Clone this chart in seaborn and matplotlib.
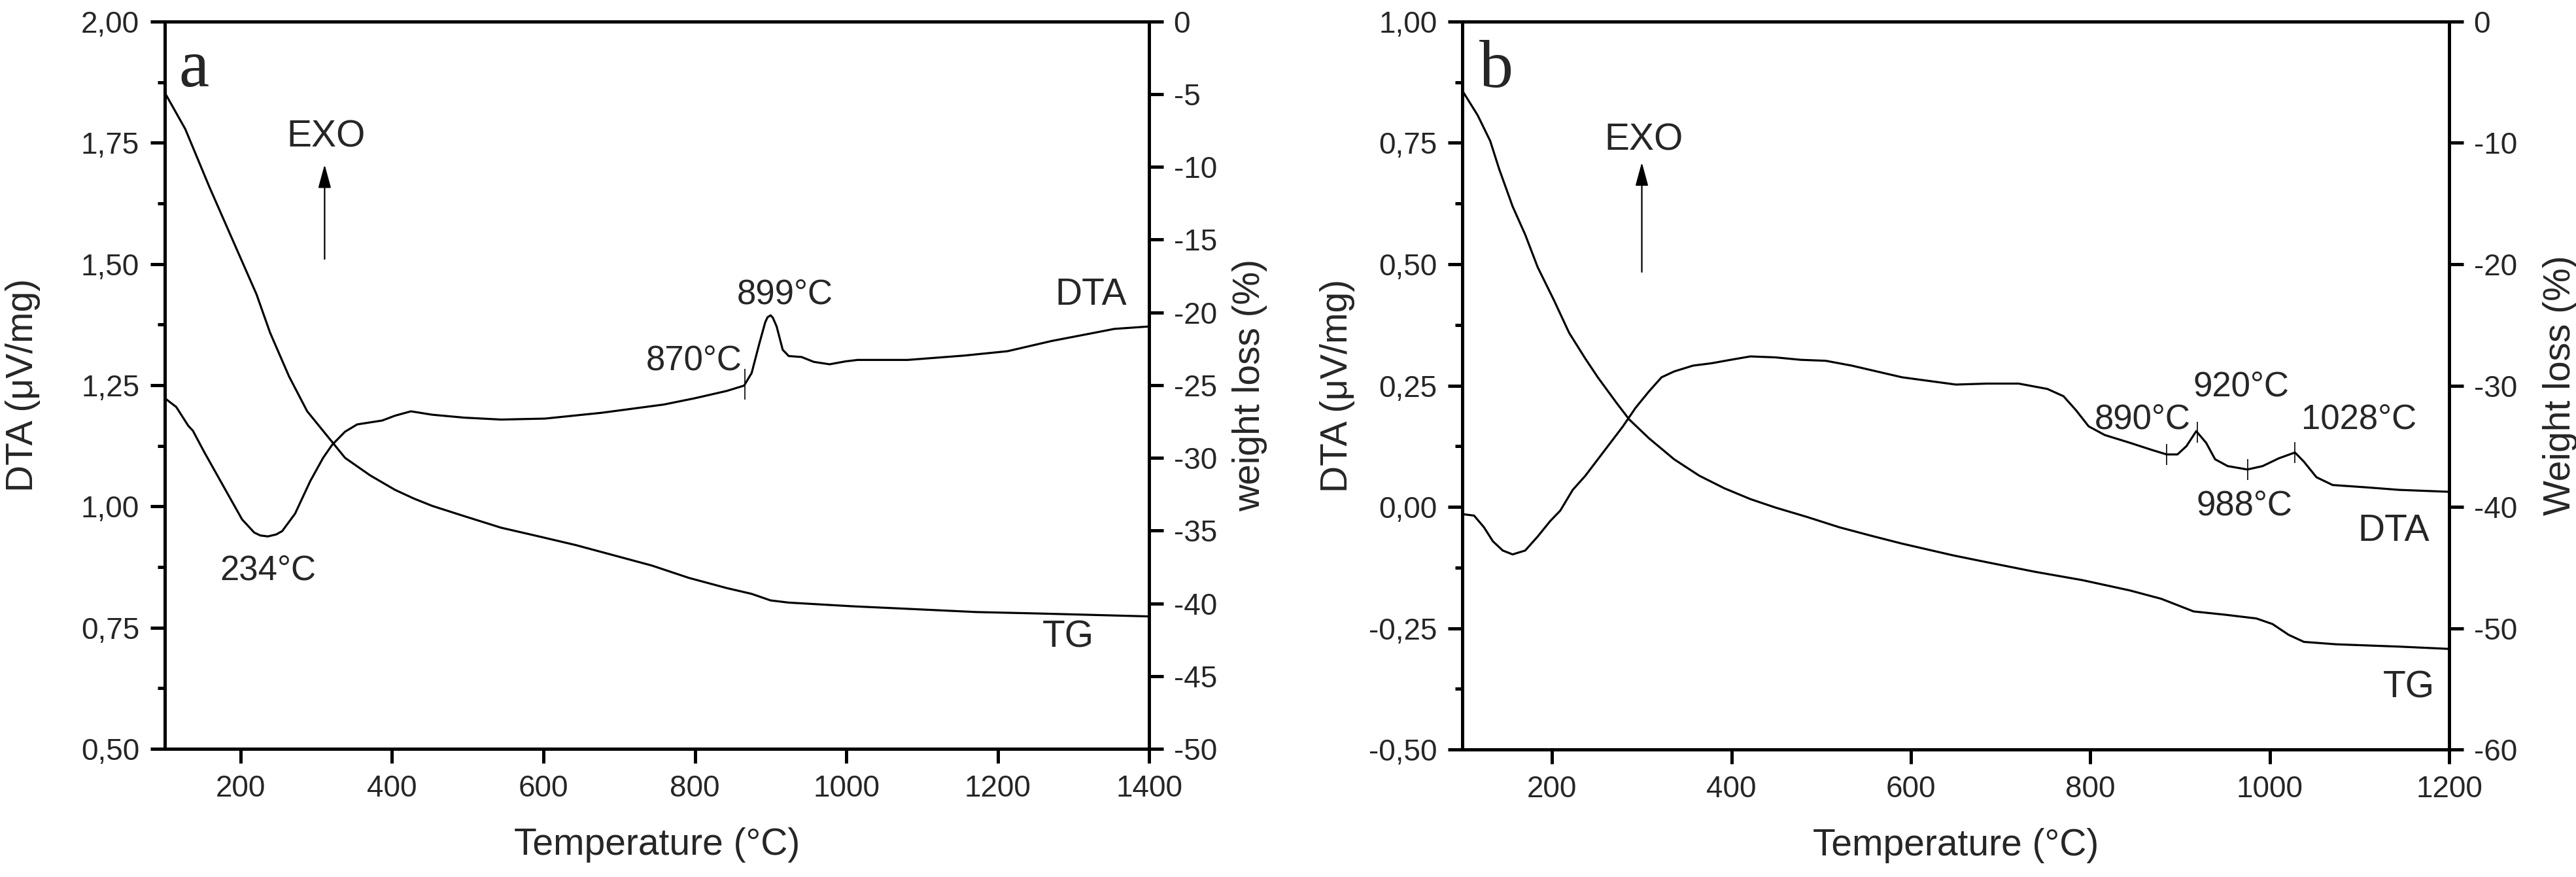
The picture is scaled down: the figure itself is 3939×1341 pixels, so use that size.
import matplotlib
matplotlib.use("Agg")
import numpy as np
import matplotlib.pyplot as plt
from matplotlib.ticker import MultipleLocator, FuncFormatter, NullLocator
import seaborn as sns

# ---- panel a : DTA (left axis) and TG (right axis) ----
a_dta_temp = [100, 115, 131, 137, 152, 175, 202, 218, 226, 236, 247, 255, 272, 292, 309, 321,
              338, 354, 387, 404, 425, 453, 495, 544, 602, 677, 759, 800, 842, 865, 875, 885,
              893, 896, 900, 903, 908, 916, 924, 941, 957, 978, 999, 1015, 1081, 1156, 1213,
              1271, 1321, 1354, 1400]
a_dta = [1.223, 1.205, 1.166, 1.156, 1.112, 1.048, 0.973, 0.946, 0.940, 0.938, 0.942, 0.949,
         0.985, 1.052, 1.100, 1.127, 1.154, 1.169, 1.177, 1.187, 1.196, 1.189, 1.183, 1.179,
         1.181, 1.193, 1.210, 1.223, 1.238, 1.249, 1.275, 1.335, 1.380, 1.390, 1.394, 1.389,
         1.371, 1.323, 1.310, 1.308, 1.298, 1.293, 1.299, 1.302, 1.302, 1.311, 1.320, 1.341,
         1.356, 1.366, 1.371]
a_tg_temp = [100, 127, 159, 202, 221, 239, 264, 288, 313, 338, 371, 404, 429, 453, 495, 544,
             594, 643, 693, 743, 792, 842, 875, 900, 924, 1007, 1090, 1172, 1255, 1400]
a_tg = [-4.9, -7.4, -11.4, -16.5, -18.75, -21.4, -24.4, -26.8, -28.4, -30.0, -31.2, -32.2,
        -32.8, -33.3, -34.0, -34.8, -35.4, -36.0, -36.7, -37.4, -38.25, -38.95, -39.35, -39.8,
        -39.95, -40.2, -40.4, -40.6, -40.7, -40.9]
a_marks = [866]

# ---- panel b ----
b_dta_temp = [100, 113, 124, 134, 145, 156, 170, 184, 198, 209, 223, 237, 251, 265, 279, 293,
              308, 322, 336, 357, 378, 399, 421, 449, 477, 505, 534, 562, 590, 618, 650, 685,
              720, 752, 770, 784, 798, 816, 844, 869, 885, 897, 907, 918, 929, 939, 953, 975,
              992, 1010, 1028, 1038, 1052, 1070, 1109, 1144, 1200]
b_dta = [-0.015, -0.018, -0.042, -0.071, -0.090, -0.098, -0.090, -0.061, -0.029, -0.008,
         0.035, 0.064, 0.098, 0.132, 0.166, 0.204, 0.238, 0.267, 0.279, 0.291, 0.296, 0.303,
         0.310, 0.308, 0.303, 0.301, 0.291, 0.279, 0.267, 0.260, 0.252, 0.254, 0.254, 0.243,
         0.228, 0.199, 0.166, 0.148, 0.132, 0.117, 0.108, 0.108, 0.125, 0.156, 0.132, 0.098,
         0.084, 0.077, 0.084, 0.100, 0.112, 0.093, 0.061, 0.045, 0.040, 0.035, 0.031]
b_tg_temp = [100, 117, 131, 141, 156, 170, 184, 202, 219, 237, 251, 272, 286, 308, 336, 364,
             392, 421, 449, 484, 520, 555, 590, 647, 685, 738, 791, 844, 879, 915, 950, 985,
             1003, 1021, 1038, 1074, 1144, 1200]
b_tg = [-5.7, -7.72, -9.84, -12.16, -15.24, -17.56, -20.26, -22.96, -25.66, -27.78, -29.33,
        -31.45, -32.8, -34.35, -36.08, -37.43, -38.47, -39.36, -40.06, -40.83, -41.68, -42.37,
        -43.03, -44.0, -44.57, -45.35, -46.04, -46.89, -47.58, -48.62, -48.89, -49.2, -49.66,
        -50.55, -51.13, -51.33, -51.52, -51.71]
b_marks = [885, 919, 975, 1028]

sns.set_style("ticks")
plt.rcParams["font.family"] = ["Liberation Sans", "DejaVu Sans"]
plt.rcParams["axes.unicode_minus"] = False

LW_AX = 3.6
LW_DATA = 2.3
TICK_FS = 33
LABEL_FS = 41
NOTE_FS = 38
SERIF = ["Liberation Serif", "DejaVu Serif"]


def comma_fmt(decimals):
    return FuncFormatter(lambda v, p: f"{v:.{decimals}f}".replace(".", ","))


def setup_panel(ax, xlim, xticks, ylim, wlim, wstep, wlabel, ylab_x, wlab_x):
    ax2 = ax.twinx()
    ax.set_xlim(*xlim)
    ax.set_xticks(xticks)
    ax.xaxis.set_minor_locator(NullLocator())
    ax.set_ylim(*ylim)
    ax.yaxis.set_major_locator(MultipleLocator(0.25))
    ax.yaxis.set_minor_locator(MultipleLocator(0.125))
    ax.yaxis.set_major_formatter(comma_fmt(2))
    ax2.set_ylim(*wlim)
    ax2.yaxis.set_major_locator(MultipleLocator(wstep))
    ax2.yaxis.set_minor_locator(NullLocator())
    ax2.yaxis.set_major_formatter(FuncFormatter(lambda v, p: f"{v:.0f}"))

    for a in (ax, ax2):
        for s in a.spines.values():
            s.set_linewidth(LW_AX)
            s.set_color("black")
    ax.tick_params(axis="x", which="major", direction="out", length=16, width=LW_AX,
                   labelsize=TICK_FS, pad=12, top=False, color="black")
    ax.tick_params(axis="y", which="major", direction="out", length=16, width=LW_AX,
                   labelsize=TICK_FS, pad=12, right=False, color="black")
    ax.tick_params(axis="y", which="minor", direction="out", length=8, width=LW_AX,
                   right=False, color="black")
    ax2.tick_params(axis="y", which="major", direction="out", length=16, width=LW_AX,
                    labelsize=TICK_FS, pad=11, left=False, color="black")

    ax.set_xlabel("Temperature (°C)", fontsize=LABEL_FS)
    ax.set_ylabel("DTA (\u03bcV/mg)", fontsize=LABEL_FS)
    ax2.set_ylabel(wlabel, fontsize=LABEL_FS)
    ax.xaxis.set_label_coords(0.5, -0.108)
    ax.yaxis.set_label_coords(ylab_x, 0.5)
    ax2.yaxis.set_label_coords(wlab_x, 0.5)
    return ax2


def draw_curves(ax, ax2, t_dta, dta, t_tg, tg, marks, half):
    sns.lineplot(x=t_dta, y=dta, ax=ax, color="black", linewidth=LW_DATA,
                 sort=False, estimator=None)
    sns.lineplot(x=t_tg, y=tg, ax=ax2, color="black", linewidth=LW_DATA,
                 sort=False, estimator=None)
    # small vertical marks on the DTA curve at the labelled peaks
    for t in marks:
        yc = np.interp(t, t_dta, dta)
        ax.vlines(t, yc - half, yc + half, color="black", linewidth=1.2)


def exo_arrow(ax, x, y0, y1, ytxt):
    ax.annotate("", xy=(x, y1), xytext=(x, y0),
                arrowprops=dict(arrowstyle="-|>,head_length=1.1,head_width=0.3",
                                lw=1.6, color="black", mutation_scale=20,
                                shrinkA=0, shrinkB=0))
    ax.text(x + 2, ytxt, "EXO", fontsize=LABEL_FS, ha="center", va="baseline")


fig = plt.figure(figsize=(39.39, 13.41), dpi=100)
ax_a = fig.add_axes([0.0640, 0.1462, 0.3821, 0.8293])
ax_b = fig.add_axes([0.5677, 0.1454, 0.3831, 0.8300])

# ---- panel a ----
ax_a2 = setup_panel(ax_a, (100, 1400), range(200, 1401, 200), (0.5, 2.0),
                    (-50, 0), 5, "weight loss (%)", -0.126, 1.0845)
draw_curves(ax_a, ax_a2, a_dta_temp, a_dta, a_tg_temp, a_tg, a_marks, 0.032)
exo_arrow(ax_a, 311, 1.510, 1.705, 1.741)
ax_a.text(236, 0.849, "234°C", fontsize=NOTE_FS, ha="center", va="baseline")
ax_a.text(862, 1.281, "870°C", fontsize=NOTE_FS, ha="right", va="baseline")
ax_a.text(919, 1.418, "899°C", fontsize=NOTE_FS, ha="center", va="baseline")
ax_a.text(1323, 1.416, "DTA", fontsize=LABEL_FS, ha="center", va="baseline")
ax_a2.text(1293, -43.0, "TG", fontsize=LABEL_FS, ha="center", va="baseline")
ax_a.text(0.014, 0.911, "a", transform=ax_a.transAxes, fontsize=75,
          family=SERIF, ha="left", va="baseline")

# ---- panel b ----
ax_b2 = setup_panel(ax_b, (100, 1200), range(200, 1201, 200), (-0.5, 1.0),
                    (-60, 0), 10, "Weight loss (%)", -0.109, 1.0948)
draw_curves(ax_b, ax_b2, b_dta_temp, b_dta, b_tg_temp, b_tg, b_marks, 0.022)
exo_arrow(ax_b, 300, 0.484, 0.710, 0.735)
ax_b.text(912, 0.161, "890°C", fontsize=NOTE_FS, ha="right", va="baseline")
ax_b.text(968, 0.228, "920°C", fontsize=NOTE_FS, ha="center", va="baseline")
ax_b.text(1099, 0.161, "1028°C", fontsize=NOTE_FS, ha="center", va="baseline")
ax_b.text(972, -0.017, "988°C", fontsize=NOTE_FS, ha="center", va="baseline")
ax_b.text(1138, -0.070, "DTA", fontsize=LABEL_FS, ha="center", va="baseline")
ax_b2.text(1155, -55.7, "TG", fontsize=LABEL_FS, ha="center", va="baseline")
ax_b.text(0.017, 0.910, "b", transform=ax_b.transAxes, fontsize=75,
          family=SERIF, ha="left", va="baseline")

fig.savefig("out.png", dpi=100)
